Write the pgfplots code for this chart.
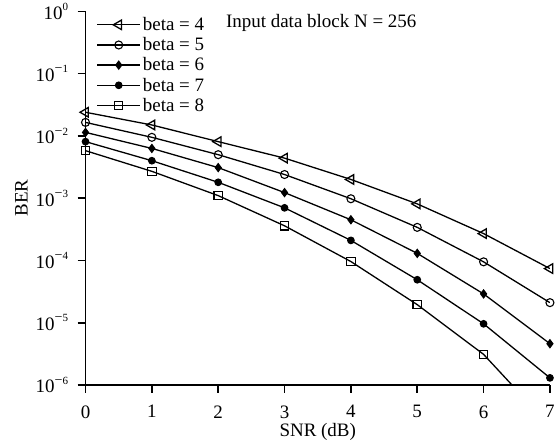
\documentclass[border=0pt]{standalone}
\usepackage{fontspec}
\setmainfont{Liberation Serif}
\usepackage{pgfplots}
\pgfplotsset{compat=1.18}
\newcommand\fs{\fontsize{19}{22}\selectfont}
% 10 to the minus #1
\newcommand\pw[1]{10\raisebox{1.0ex}{\fontsize{14}{14}\selectfont−\fontsize{11}{11}\selectfont#1}}
\begin{document}
\begin{tikzpicture}
\begin{axis}[
  scale only axis, width=465pt, height=374pt,
  ymode=log, xmin=0, xmax=7, ymin=1e-6, ymax=1,
  axis lines=left, axis line style={-, line width=1.6pt},
  tick style={line width=1.6pt, black}, tick align=outside, major tick length=8pt,
  xtick={0,...,7},
  ytick={1e-6,1e-5,1e-4,1e-3,1e-2,1e-1,1},
  yticklabels={\pw{6},\pw{5},\pw{4},\pw{3},\pw{2},\pw{1},10\raisebox{1.0ex}{\fontsize{11}{11}\selectfont0}},
  yminorticks=false,
  /pgf/number format/assume math mode=true,
  ticklabel style={font=\fs},
  yticklabel style={xshift=-6pt},
  xticklabel style={yshift=-9pt},
  label style={font=\fs},
  ylabel style={yshift=1pt},
  xlabel style={yshift=2pt},
  xlabel={SNR (dB)}, ylabel={BER},
  legend style={at={(0.017,0.995)}, anchor=north west, draw=none, fill=none, font=\fs, row sep=1.5pt},
  legend cell align=left,
  legend image code/.code={\draw[mark=none] (0pt,0pt)--(43pt,0pt); \draw plot[only marks] coordinates {(21.5pt,0pt)};},
  every axis plot/.append style={black, line width=1.3pt, mark options={solid, line width=1.1pt}},
]
% beta = 4
\addplot[mark=triangle, mark size=5.5pt, mark options={rotate=90}] coordinates {
  (0,0.024) (1,0.015) (2,0.0081) (3,0.0044) (4,0.0020) (5,8.1e-4) (6,2.7e-4) (7,7.4e-5)};
\addlegendentry{beta = 4}
% beta = 5
\addplot[mark=o, mark size=4pt] coordinates {
  (0,0.0165) (1,0.0095) (2,0.0050) (3,0.0024) (4,9.8e-4) (5,3.4e-4) (6,9.5e-5) (7,2.1e-5)};
\addlegendentry{beta = 5}
% beta = 6
\addplot[mark=diamond*, mark size=4pt] coordinates {
  (0,0.0114) (1,0.0063) (2,0.0031) (3,0.00123) (4,4.5e-4) (5,1.3e-4) (6,2.9e-5) (7,4.6e-6)};
\addlegendentry{beta = 6}
% beta = 7
\addplot[mark=*, mark size=3.3pt] coordinates {
  (0,0.0081) (1,0.0040) (2,0.0018) (3,7.0e-4) (4,2.1e-4) (5,4.9e-5) (6,9.6e-6) (7,1.3e-6)};
\addlegendentry{beta = 7}
% beta = 8: line runs below the axis after x=6, marks only inside
\addplot[mark=none, forget plot] coordinates {
  (0,0.0058) (1,0.0027) (2,0.0011) (3,3.6e-4) (4,9.6e-5) (5,1.95e-5) (6,3.1e-6) (7,2.2e-7)};
\addplot[only marks, mark=square, mark size=4.2pt] coordinates {
  (0,0.0058) (1,0.0027) (2,0.0011) (3,3.6e-4) (4,9.6e-5) (5,1.95e-5) (6,3.1e-6)};
\addlegendentry{beta = 8}
\node[anchor=base west, font=\fs] at (rel axis cs:0.295,0.958) {Input data block N = 256};
\end{axis}
\path ([xshift=-12pt]current bounding box.west);
\end{tikzpicture}
\end{document}
